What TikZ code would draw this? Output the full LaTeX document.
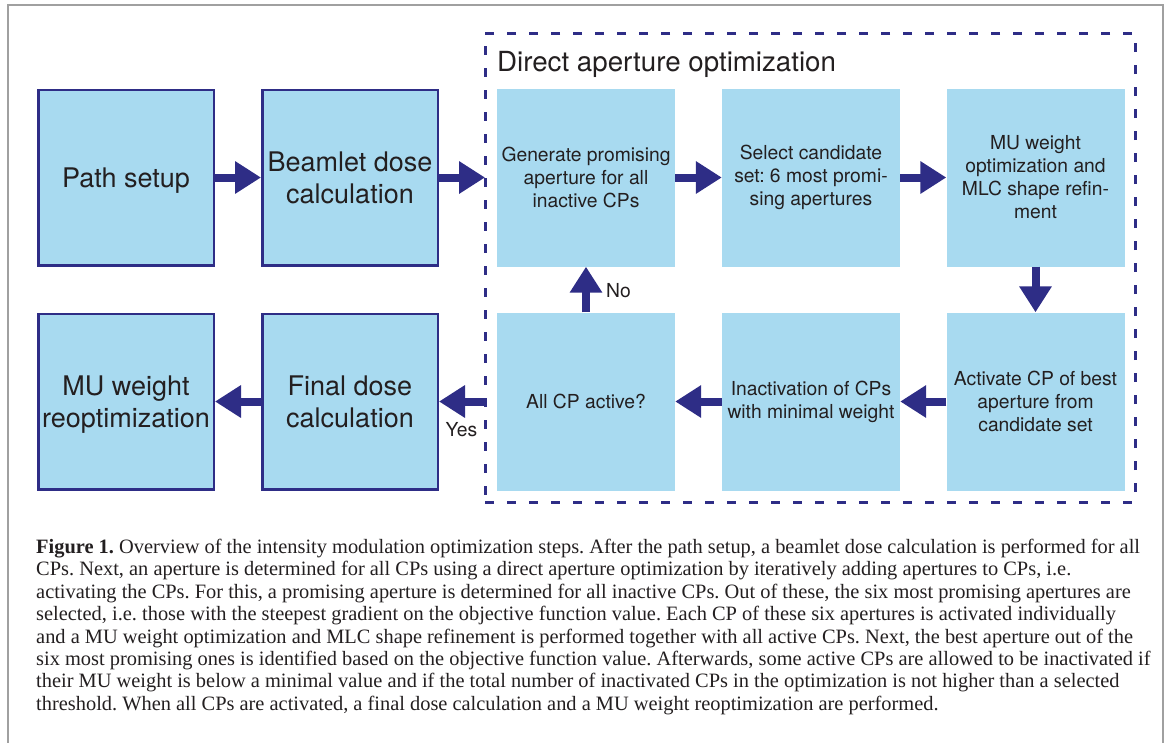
\documentclass[tikz,border=0pt]{standalone}
\usepackage{fontspec}
\setmainfont{Liberation Serif}
\setsansfont{TeX Gyre Heros}
\usetikzlibrary{arrows.meta}
\definecolor{navy}{RGB}{46,45,134}
\definecolor{boxblue}{RGB}{168,218,240}
\definecolor{txt}{RGB}{35,31,32}
\definecolor{framegray}{RGB}{160,160,160}
\frenchspacing
\begin{document}
\begin{tikzpicture}[x=1pt,y=-1pt,
  bigbox/.style={draw=navy, line width=2.5pt, fill=boxblue, minimum width=175.5pt, minimum height=175.5pt,
    inner sep=0pt, align=center, text depth=0pt, font=\sffamily\fontsize{27}{32.5}\selectfont, text=txt},
  smallbox/.style={fill=boxblue, minimum width=178pt, minimum height=178pt, inner sep=0pt,
    align=center, font=\sffamily\fontsize{19.3}{23}\selectfont, text=txt},
  flow/.style={draw=navy, line width=8pt, -{Triangle[width=31pt,length=26pt]}},
  lbl/.style={font=\sffamily\fontsize{19.3}{23}\selectfont, text=txt, inner sep=0pt},
  dapframe/.style={draw=navy, line width=3pt, dash pattern=on 9pt off 13pt, minimum width=650pt,
    minimum height=469pt, outer sep=0pt, inner sep=0pt}
]
\useasboundingbox (0,0) rectangle (1169,742);
\draw[framegray, line width=2pt] (8,745) -- (8,5) -- (1163,5) -- (1163,745);

\node[dapframe] (dap) at (810,267.5) {};
\node[anchor=base west, inner sep=0pt, font=\sffamily\fontsize{27.7}{32}\selectfont, text=txt] (title) at (497,71) {Direct aperture optimization};

\node[bigbox] (ps) at (126,177.5) {Path setup};
\node[bigbox] (bd) at (350,177.5) {Beamlet dose\\calculation};
\node[smallbox] (gen) at (586,177.5) {Generate promising\\aperture for all\\inactive CPs};
\node[smallbox] (sel) at (811,177.5) {Select candidate\\set: 6 most promi-\\sing apertures};
\node[smallbox] (muo) at (1035.5,177.5) {MU weight\\optimization and\\MLC shape refin-\\ment};
\node[smallbox] (act) at (1035.5,401.5) {Activate CP of best\\aperture from\\candidate set};
\node[smallbox] (inact) at (811,401.5) {Inactivation of CPs\\with minimal weight};
\node[smallbox] (allcp) at (586,401.5) {All CP active?};
\node[bigbox] (fd) at (350,401.5) {Final dose\\calculation};
\node[bigbox] (mur) at (126,401.5) {MU weight\\reoptimization};

\draw[flow] (ps) -- (bd);
\draw[flow] (bd.east) -- (bd.east -| dap.west);
\draw[flow] (gen) -- (sel);
\draw[flow] (sel) -- (muo);
\draw[flow] (muo) -- (act);
\draw[flow] (act) -- (inact);
\draw[flow] (inact) -- (allcp);
\draw[flow] (allcp) -- (gen);
\draw[flow] (dap.west |- fd.east) -- (fd.east);
\draw[flow] (fd) -- (mur);

\node[lbl, anchor=west] (no) at (606,291) {No};
\node[lbl] (yes) at (461.5,430) {Yes};

\node[anchor=north west, inner sep=0pt, align=left, text=txt, font=\fontsize{20.4}{22.4}\selectfont] (cap) at (36,539)
{\textbf{Figure 1.} Overview of the intensity modulation optimization steps. After the path setup, a beamlet dose calculation is performed for all\\
CPs. Next, an aperture is determined for all CPs using a direct aperture optimization by iteratively adding apertures to CPs, i.e.\\
activating the CPs. For this, a promising aperture is determined for all inactive CPs. Out of these, the six most promising apertures are\\
selected, i.e. those with the steepest gradient on the objective function value. Each CP of these six apertures is activated individually\\
and a MU weight optimization and MLC shape refinement is performed together with all active CPs. Next, the best aperture out of the\\
six most promising ones is identified based on the objective function value. Afterwards, some active CPs are allowed to be inactivated if\\
their MU weight is below a minimal value and if the total number of inactivated CPs in the optimization is not higher than a selected\\
threshold. When all CPs are activated, a final dose calculation and a MU weight reoptimization are performed.};
\end{tikzpicture}
\end{document}
